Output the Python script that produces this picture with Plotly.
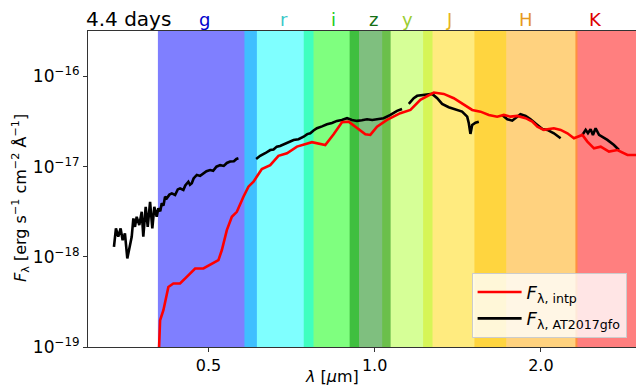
import math
import plotly.graph_objects as go

# ---------------- data ----------------
# AT2017gfo observed spectrum (segments separated by None)
wl_obs = [0.3372, 0.3400, 0.3433, 0.3467, 0.3496, 0.3530, 0.3565, 0.3605, 0.3631, 0.3656,
          0.3681, 0.3707, 0.3748, 0.3786, 0.3811, 0.3849, 0.3882, 0.3920, 0.3957, 0.3990,
          0.4030, 0.4057, 0.4090, 0.4116, 0.4145, 0.4173, 0.4203, 0.4250, 0.4292, 0.4351,
          0.4400, 0.4442, 0.4504, 0.4540, 0.4599, 0.4630, 0.4665, 0.4700, 0.4764, 0.4830,
          0.4896, 0.4960, 0.5035, 0.5100, 0.5170, 0.5251, 0.5330, 0.5400, 0.5473, 0.5560,
          0.5620, 0.5666,
          None,
          0.6100, 0.6204, 0.6335, 0.6400, 0.6470, 0.6560, 0.6650, 0.6740, 0.6839, 0.6990,
          0.7131, 0.7280, 0.7436, 0.7550, 0.7646, 0.7750, 0.7862, 0.8030, 0.8197, 0.8370,
          0.8545, 0.8720, 0.8913, 0.9100, 0.9292, 0.9480, 0.9688, 0.9900, 1.010, 1.038,
          1.068, 1.098, 1.121,
          None,
          1.153, 1.177, 1.194, 1.227, 1.271, 1.298, 1.325, 1.362, 1.401, 1.440,
          1.471, 1.481, 1.491, 1.502, 1.523, 1.544,
          None,
          1.702, 1.739, 1.775, 1.800, 1.837, 1.877, 1.916, 1.971, 2.013, 2.055,
          2.112, 2.172,
          None,
          2.378, 2.411, 2.434, 2.461, 2.485, 2.513, 2.549, 2.585, 2.639, 2.713, 2.770]
flux_obs = [1.29e-18, 2.07e-18, 1.67e-18, 2.07e-18, 1.53e-18, 1.82e-18, 9.6e-19, 1.29e-18, 1.67e-18, 2.67e-18,
            2.15e-18, 2.78e-18, 2.25e-18, 3.16e-18, 1.67e-18, 3.59e-18, 2.15e-18, 4.08e-18, 2.07e-18, 3.59e-18,
            2.78e-18, 3.45e-18, 3.20e-18, 3.92e-18, 3.70e-18, 4.64e-18, 4.46e-18, 4.90e-18, 5.06e-18, 4.85e-18,
            5.60e-18, 5.75e-18, 5.51e-18, 6.20e-18, 6.81e-18, 6.30e-18, 6.54e-18, 7.40e-18, 8.09e-18, 7.90e-18,
            8.45e-18, 8.90e-18, 9.19e-18, 9.00e-18, 1.00e-17, 1.04e-17, 1.02e-17, 1.10e-17, 1.14e-17, 1.15e-17,
            1.22e-17, 1.24e-17,
            None,
            1.22e-17, 1.32e-17, 1.41e-17, 1.46e-17, 1.53e-17, 1.55e-17, 1.67e-17, 1.70e-17, 1.77e-17, 1.85e-17,
            1.98e-17, 2.02e-17, 2.15e-17, 2.30e-17, 2.35e-17, 2.52e-17, 2.67e-17, 2.80e-17, 2.96e-17, 3.05e-17,
            3.22e-17, 3.30e-17, 3.45e-17, 3.30e-17, 3.22e-17, 3.28e-17, 3.36e-17, 3.30e-17, 3.36e-17, 3.45e-17,
            3.75e-17, 4.16e-17, 4.37e-17,
            None,
            4.98e-17, 5.75e-17, 6.11e-17, 6.27e-17, 6.42e-17, 5.75e-17, 4.98e-17, 4.57e-17, 4.34e-17, 4.08e-17,
            3.59e-17, 3.03e-17, 2.31e-17, 2.90e-17, 3.08e-17, 3.16e-17,
            None,
            3.75e-17, 3.36e-17, 3.24e-17, 3.45e-17, 3.82e-17, 3.66e-17, 3.36e-17, 2.90e-17, 2.61e-17, 2.56e-17,
            2.35e-17, 2.07e-17,
            None,
            2.25e-17, 2.56e-17, 2.35e-17, 2.61e-17, 2.25e-17, 2.67e-17, 2.25e-17, 2.15e-17, 1.98e-17, 1.74e-17, 1.53e-17]

# interpolated model spectrum
wl_intp = [0.4065, 0.4087, 0.4144, 0.4203, 0.4231, 0.4320, 0.4442, 0.4568, 0.4730, 0.4896,
           0.5105, 0.5213, 0.5288, 0.5399, 0.5513, 0.5629, 0.5786, 0.5908, 0.6034, 0.6247,
           0.6470, 0.6695, 0.6938, 0.7233, 0.7700, 0.7915, 0.8139, 0.8428, 0.8727, 0.8973,
           0.9292, 0.9620, 0.9822, 1.010, 1.053, 1.098, 1.113, 1.161, 1.210, 1.280,
           1.334, 1.391, 1.450, 1.502, 1.555, 1.610, 1.667, 1.714, 1.762, 1.813,
           1.877, 1.930, 1.971, 2.025, 2.112, 2.172, 2.234, 2.296, 2.378, 2.428,
           2.496, 2.567, 2.657, 2.752, 2.870, 3.040]
flux_intp = [8.0e-20, 1.98e-19, 2.56e-19, 3.95e-19, 4.64e-19, 5.06e-19, 5.06e-19, 6.0e-19, 7.43e-19, 7.43e-19,
             8.45e-19, 9.19e-19, 1.19e-18, 1.98e-18, 2.78e-18, 3.16e-18, 4.64e-18, 6.0e-18, 6.81e-18, 9.42e-18,
             1.04e-17, 1.32e-17, 1.41e-17, 1.67e-17, 1.87e-17, 1.82e-17, 1.74e-17, 2.29e-17, 3.11e-17, 3.16e-17,
             2.71e-17, 2.29e-17, 2.25e-17, 2.78e-17, 3.30e-17, 3.75e-17, 3.92e-17, 4.26e-17, 5.51e-17, 6.64e-17,
             6.42e-17, 5.75e-17, 4.85e-17, 4.26e-17, 4.08e-17, 3.75e-17, 3.59e-17, 3.75e-17, 3.59e-17, 3.66e-17,
             3.45e-17, 3.16e-17, 2.78e-17, 2.56e-17, 2.67e-17, 2.56e-17, 2.35e-17, 2.07e-17, 2.25e-17, 1.90e-17,
             1.60e-17, 1.67e-17, 1.47e-17, 1.53e-17, 1.35e-17, 1.35e-17]

# photometric filter bands (drawing order), wavelength ranges in micron
band_names = ["K", "H", "J", "y", "i", "z", "g", "r"]
band_lo = [2.31, 1.516, 1.224, 1.032, 0.744, 0.901, 0.405, 0.581]
band_hi = [3.20, 2.33, 1.731, 1.273, 0.937, 1.069, 0.612, 0.775]
band_colors = ["#ff0000", "#ffa500", "#ffd700", "#adff2f", "#00ff00", "#008000", "#0000ff", "#00ffff"]

# filter labels
label_names = ["g", "r", "i", "z", "y", "J", "H", "K"]
label_wl = [0.491, 0.684, 0.841, 0.996, 1.145, 1.362, 1.877, 2.513]
label_colors = ["#0000cc", "#3cc8c8", "#22cc22", "#157015", "#9acd32", "#e6b422", "#e69a1f", "#dd0000"]

title_text = "4.4 days"

# ---------------- figure ----------------
fig = go.Figure()

for lo, hi, col in zip(band_lo, band_hi, band_colors):
    fig.add_shape(type="rect", xref="x", yref="paper", x0=lo, x1=hi, y0=0, y1=1,
                  fillcolor=col, opacity=0.5, line_width=0, layer="below")

fig.add_trace(go.Scatter(x=wl_obs, y=flux_obs, mode="lines", connectgaps=False,
                         line=dict(color="black", width=2.6),
                         name="<i>F</i><sub>λ, AT2017gfo</sub>"))
fig.add_trace(go.Scatter(x=wl_intp, y=flux_intp, mode="lines",
                         line=dict(color="#ff0000", width=2.6),
                         name="<i>F</i><sub>λ, intp</sub>"))

for nm, wl, col in zip(label_names, label_wl, label_colors):
    fig.add_annotation(x=math.log10(wl), xref="x", y=1, yref="paper", yanchor="bottom",
                       text=nm, showarrow=False, yshift=-1,
                       font=dict(size=18, color=col, family="DejaVu Sans"))

fig.add_annotation(x=0, xref="paper", xanchor="left", y=1, yref="paper", yanchor="bottom",
                   text=title_text, showarrow=False, yshift=-2, xshift=-4,
                   font=dict(size=20, color="black", family="DejaVu Sans"))

fig.add_annotation(x=0.445, xref="paper", y=-0.058, yref="paper", yanchor="top",
                   text="<i>λ</i> [<i>μ</i>m]", showarrow=False,
                   font=dict(size=16, color="black", family="DejaVu Sans"))
fig.add_annotation(x=0, xref="paper", xanchor="right", xshift=-54, y=0.47, yref="paper",
                   textangle=-90,
                   text="<i>F</i><sub>λ</sub> [erg s<sup>−1</sup> cm<sup>−2</sup> Å<sup>−1</sup>]",
                   showarrow=False,
                   font=dict(size=16, color="black", family="DejaVu Sans"))

fig.update_xaxes(type="log", range=[math.log10(0.3026), math.log10(2.974)],
                 tickvals=[0.5, 1.0, 2.0], ticktext=["0.5", "1.0", "2.0"],
                 ticks="outside", ticklen=4, tickcolor="#333", showline=True,
                 linecolor="#333", linewidth=1, mirror=True, showgrid=False, zeroline=False,
                 tickfont=dict(size=16, family="DejaVu Sans", color="black"))
fig.update_yaxes(type="log", range=[-19, math.log10(3.2e-16)],
                 tickvals=[1e-19, 1e-18, 1e-17, 1e-16],
                 ticktext=["10<sup>−19</sup>", "10<sup>−18</sup>", "10<sup>−17</sup>", "10<sup>−16</sup>"],
                 ticks="outside", ticklen=4, tickcolor="#333", showline=True,
                 linecolor="#333", linewidth=1, showgrid=False, zeroline=False,
                 tickfont=dict(size=17, family="DejaVu Sans", color="black"))

fig.update_layout(width=636, height=390, margin=dict(l=88, r=0, t=31, b=43),
                  plot_bgcolor="white", paper_bgcolor="white",
                  font=dict(family="DejaVu Sans", color="black"),
                  legend=dict(x=0.70, y=0.235, xanchor="left", yanchor="top",
                              traceorder="reversed", tracegroupgap=0, itemwidth=44,
                              bgcolor="rgba(255,255,255,0.8)", bordercolor="#cccccc", borderwidth=1,
                              font=dict(size=18, family="DejaVu Sans")))

fig.write_html("out.html")
